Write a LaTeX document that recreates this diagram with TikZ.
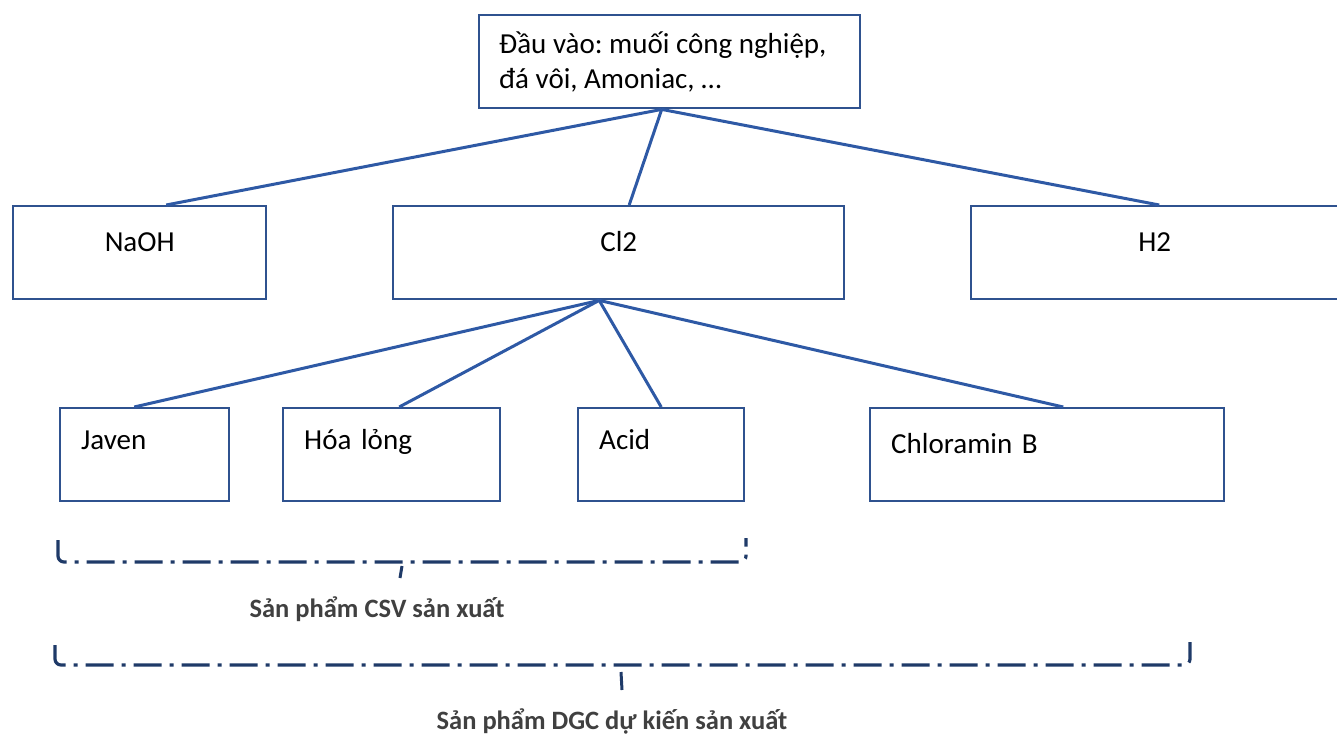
\documentclass[tikz,border=0pt]{standalone}
\usepackage{fontspec}
\setmainfont{Carlito}
\frenchspacing
\usetikzlibrary{positioning}
\definecolor{bLine}{RGB}{47,82,143}
\definecolor{cLine}{RGB}{46,89,165}
\definecolor{brLine}{RGB}{31,58,104}
\definecolor{capGray}{RGB}{64,64,64}
\tikzset{
  box/.style={rectangle, draw=bLine, line width=2.4pt, anchor=north west,
              minimum height=93pt, inner sep=0pt, font=\fontsize{29}{35}\selectfont},
  cbox/.style={box, text height=10pt, text depth=13pt},
  lbox/.style={box, align=left, inner xsep=21pt, text height=10pt, text depth=21pt},
  link/.style={draw=cLine, line width=3pt},
  brack/.style={draw=brLine, line width=3.2pt, rounded corners=6pt,
                dash pattern=on 28pt off 8pt on 4pt off 8pt},
  tick/.style={draw=brLine, line width=3pt},
  note/.style={font=\fontsize{26.5}{30}\selectfont\bfseries, text=capGray},
}
\begin{document}
\begin{tikzpicture}[x=1pt,y=-1pt]
  \useasboundingbox (0,0) rectangle (1337,735);
  % --- raw input ------------------------------------------------------------
  \node[box, align=flush left, inner xsep=20pt, text width=341pt] (input) at (478,14)
    {Đầu vào: muối công nghiệp,\\đá vôi, Amoniac, …};

  % --- first level products --------------------------------------------------
  \node[cbox, minimum width=253pt] (naoh) at (12,205) {NaOH};
  \node[cbox, minimum width=451pt] (cl) at (392,205) {Cl2};
  \node[cbox, minimum width=367pt] (h) at (970,205) {H2};

  % --- chlorine derivatives --------------------------------------------------
  \node[lbox, text width=127pt] (javen) at (59,407) {Javen};
  \node[lbox, text width=175pt] (liquid) at (282,407) {Hóa lỏng};
  \node[lbox, text width=124pt] (acid) at (577,407) {Acid};
  \node[lbox, text width=312pt, text depth=12pt] (chlor) at (869,407) {Chloramin B};

  % --- tree links ------------------------------------------------------------
  \draw[link] ([xshift=-8pt]input.south) -- ([xshift=26.5pt]naoh.north);
  \draw[link] ([xshift=-8pt]input.south) -- ([xshift=10.5pt]cl.north);
  \draw[link] ([xshift=-8pt]input.south) -- ([xshift=4.5pt]h.north);
  \draw[link] ([xshift=-19.5pt]cl.south) -- ([xshift=-10.5pt]javen.north);
  \draw[link] ([xshift=-19.5pt]cl.south) -- ([xshift=7.5pt]liquid.north);
  \draw[link] ([xshift=-19.5pt]cl.south) -- (acid.north);
  \draw[link] ([xshift=-19.5pt]cl.south) -- ([xshift=16pt]chlor.north);

  % --- product groups --------------------------------------------------------
  \draw[brack] (58,540) -- (58,562) -- (746,562) -- (746,538);
  \draw[tick] (402,566) -- (400,578);
  \node[note] (csv) at (377,609) {Sản phẩm CSV sản xuất};

  \draw[brack] (55,645) -- (55,665) -- (1190,665) -- (1190,642);
  \draw[tick] (621,672) -- (622,690);
  \node[note] (dgc) at (612,721) {Sản phẩm DGC dự kiến sản xuất};
\end{tikzpicture}
\end{document}
